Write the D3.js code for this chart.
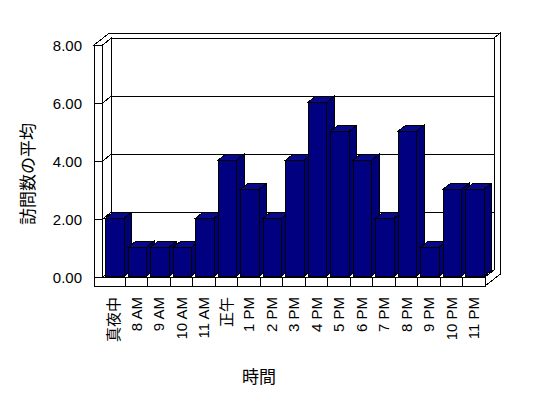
<!DOCTYPE html>
<html>
<head>
<meta charset="utf-8">
<script src="https://cdn.jsdelivr.net/npm/d3@7"></script>
<style>
  body { margin: 0; background: #fff; }
  svg { display: block; }
  text { font-family: "Liberation Sans", "Noto Sans CJK JP", sans-serif; fill: #000; }
</style>
</head>
<body>
<svg id="chart" width="548" height="398"></svg>
<script>
const categories = ["真夜中", "8 AM", "9 AM", "10 AM", "11 AM", "正午", "1 PM", "2 PM", "3 PM",
                    "4 PM", "5 PM", "6 PM", "7 PM", "8 PM", "9 PM", "10 PM", "11 PM"];
const visits = [2, 1, 1, 1, 2, 4, 3, 2, 4, 6, 5, 4, 2, 5, 1, 3, 3];
const yTicks = [0, 2, 4, 6, 8];
const yTitle = "訪問数の平均";
const xTitle = "時間";

const svg = d3.select("#chart");

// front plane of the box
const left = 102.5, right = 485, wallOuter = 94, floorBottom = 286;
const y = d3.scaleLinear().domain([0, 8]).range([277, 45]);
const x = d3.scaleBand().domain(categories).range([left, right])
    .paddingInner(0.18).paddingOuter(0.09);

// oblique projection: depth z goes up and to the right
const DX = 9, DY = 7, BACK = 1.7;
const P = (px, py, z) => [px + z * DX, py - z * DY];
const poly = pts => "M" + pts.map(p => p.join(",")).join("L") + "Z";

const g = svg.append("g").attr("shape-rendering", "crispEdges")
    .attr("stroke", "#000").attr("stroke-width", 1).attr("fill", "#fff");

const yTop = y(8), yBase = y(0);

// back wall face
g.append("path").attr("d", poly([P(left, yTop, 1), P(right, yTop, 1), P(right, yBase, 1), P(left, yBase, 1)]));
// right side of back wall + floor slab
g.append("path").attr("d", poly([P(right, yTop, 1), P(right, yTop, BACK), P(right, floorBottom, BACK),
    P(right, floorBottom, 0), P(right, yBase, 0), P(right, yBase, 1)]));
// top of walls
g.append("path").attr("d", poly([P(wallOuter, yTop, 0), P(wallOuter, yTop, BACK), P(right, yTop, BACK),
    P(right, yTop, 1), P(left, yTop, 1), P(left, yTop, 0)]));
// left wall inner face
g.append("path").attr("d", poly([P(left, yTop, 0), P(left, yTop, 1), P(left, yBase, 1), P(left, yBase, 0)]));
// floor top
g.append("path").attr("d", poly([P(left, yBase, 0), P(right, yBase, 0), P(right, yBase, 1), P(left, yBase, 1)]));
// floor front face
g.append("path").attr("d", poly([[wallOuter, yBase], [right, yBase], [right, floorBottom], [wallOuter, floorBottom]]));
// left wall front face
g.append("path").attr("d", poly([[wallOuter, yTop], [left, yTop], [left, yBase], [wallOuter, yBase]]));

// gridlines: across wall front, along inner wall, across back wall
g.selectAll(".grid").data(yTicks).join("path")
    .attr("class", "grid").attr("fill", "none")
    .attr("d", d => {
        const yy = y(d);
        return "M" + [wallOuter, yy] + "L" + [left, yy] + "L" + P(left, yy, 1) + "L" + P(right, yy, 1);
    });

// category ticks on floor front
g.selectAll(".ftick").data(d3.range(1, categories.length)).join("line")
    .attr("class", "ftick")
    .attr("x1", i => left + i * x.step()).attr("x2", i => left + i * x.step())
    .attr("y1", yBase).attr("y2", floorBottom);

// bars
const z0 = 0.12, z1 = 1.0, bw = x.bandwidth();
const bars = g.selectAll(".bar").data(categories.map((c, i) => ({c, v: visits[i]}))).join("g").attr("class", "bar");
bars.append("path").attr("fill", "#000080")
    .attr("d", d => { const x0 = x(d.c), x1 = x0 + bw, yt = y(d.v);
        return poly([P(x0, yt, z0), P(x1, yt, z0), P(x1, yBase, z0), P(x0, yBase, z0)]); });
bars.append("path").attr("fill", "#08088a")
    .attr("d", d => { const x0 = x(d.c), x1 = x0 + bw, yt = y(d.v);
        return poly([P(x0, yt, z0), P(x0, yt, z1), P(x1, yt, z1), P(x1, yt, z0)]); });
bars.append("path").attr("fill", "#000078")
    .attr("d", d => { const x1 = x(d.c) + bw, yt = y(d.v);
        return poly([P(x1, yt, z0), P(x1, yt, z1), P(x1, yBase, z1), P(x1, yBase, z0)]); });

// y tick labels
svg.selectAll(".ylab").data(yTicks).join("text")
    .attr("class", "ylab")
    .attr("x", 82).attr("y", d => y(d))
    .attr("text-anchor", "end").attr("dominant-baseline", "central")
    .attr("font-size", 15)
    .text(d => d3.format(".2f")(d));

// x tick labels (rotated)
svg.selectAll(".xlab").data(categories).join("text")
    .attr("class", "xlab")
    .attr("transform", (d, i) => `translate(${left + (i + 0.5) * x.step()},297) rotate(-90)`)
    .attr("text-anchor", "end").attr("dominant-baseline", "central")
    .attr("font-size", 15)
    .text(d => d);

// axis titles
svg.append("text")
    .attr("transform", "translate(28,174) rotate(-90)")
    .attr("text-anchor", "middle").attr("dominant-baseline", "central")
    .attr("font-size", 17)
    .text(yTitle);

svg.append("text")
    .attr("x", 259).attr("y", 377)
    .attr("text-anchor", "middle").attr("dominant-baseline", "central")
    .attr("font-size", 17)
    .text(xTitle);
</script>
</body>
</html>
